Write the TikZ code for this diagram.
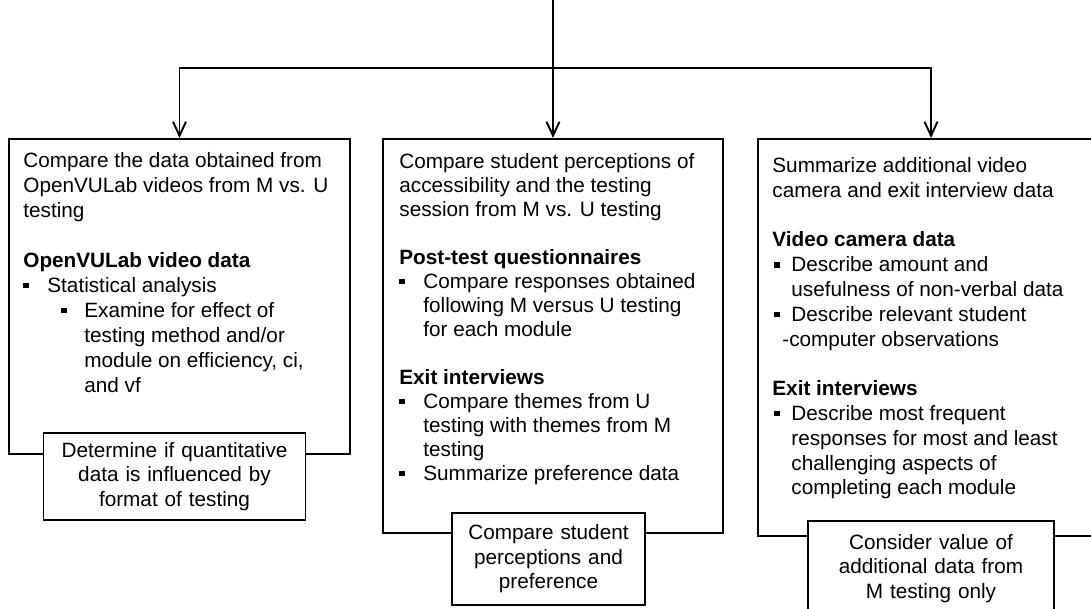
\documentclass[tikz,border=0pt]{standalone}
\usepackage{fontspec}
\setmainfont{Liberation Sans}
\usetikzlibrary{positioning,arrows.meta,calc}

\tikzset{
	caja/.style={draw, line width=1.1pt, anchor=north, inner sep=0pt},
	texto/.style={anchor=north west, align=left, inner sep=0pt, font=\fontsize{11.8}{13.66}\selectfont},
	resumen/.style={draw, line width=1.1pt, fill=white, align=center, inner sep=0pt, font=\fontsize{11.8}{13.9}\selectfont},
	flecha/.style={line width=1.1pt, -{Straight Barb[length=2.8mm,width=2.6mm]}},
}
\newcommand{\cuad}[1]{\makebox[#1][l]{\rule[0.2em]{0.26em}{0.26em}}}

\begin{document}
\begin{tikzpicture}
		\clip (0,0) rectangle (21.82,-12.18); % marco 1091x609

		% cajas principales
		\node[caja, minimum width=6.82cm, minimum height=6.30cm] (izq) at (3.59,-2.76) {};
		\node[caja, minimum width=6.80cm, minimum height=7.88cm] (centro) at (11.06,-2.76) {};
		\node[caja, minimum width=6.92cm, minimum height=7.94cm] (der) at (18.62,-2.76) {};

		% flechas
		\coordinate (inicio) at (11.06,0);
		\coordinate (rama) at (11.06,-1.36);
		\draw[flecha] (inicio) -- (centro.north);
		\draw[flecha] (rama) -| (izq.north);
		\draw[flecha] (rama) -| (der.north);

		% textos
		\node[texto, font=\fontsize{11.8}{14.2}\selectfont] (izqtxt) at ($(izq.north west)+(0.30,-0.28)$) {Compare the data obtained from\\ OpenVULab videos from M vs. U\\ testing\\[0.5cm] \textbf{OpenVULab video data}\\ \cuad{0.48cm}Statistical analysis\\ \hspace*{0.76cm}\cuad{0.46cm}Examine for effect of\\ \hspace*{1.22cm}testing method and/or\\ \hspace*{1.22cm}module on efficiency, ci,\\ \hspace*{1.22cm}and vf};
		\node[texto] (centrotxt) at ($(centro.north west)+(0.34,-0.30)$) {Compare student perceptions of\\ accessibility and the testing\\ session from M vs. U testing\\[0.48cm] \textbf{Post-test questionnaires}\\ \cuad{0.48cm}Compare responses obtained\\ \hspace*{0.48cm}following M versus U testing\\ \hspace*{0.48cm}for each module\\[0.48cm] \textbf{Exit interviews}\\ \cuad{0.48cm}Compare themes from U\\ \hspace*{0.48cm}testing with themes from M\\ \hspace*{0.48cm}testing\\ \cuad{0.48cm}Summarize preference data};
		\node[texto, font=\fontsize{11.8}{14.1}\selectfont] (dertxt) at ($(der.north west)+(0.30,-0.38)$) {Summarize additional video\\ camera and exit interview data\\[0.5cm] \textbf{Video camera data}\\ \hspace*{0.04cm}\cuad{0.34cm}Describe amount and\\ \hspace*{0.38cm}usefulness of non-verbal data\\ \hspace*{0.04cm}\cuad{0.34cm}Describe relevant student\\ \hspace*{0.2cm}-computer observations\\[0.5cm] \textbf{Exit interviews}\\ \hspace*{0.04cm}\cuad{0.34cm}Describe most frequent\\ \hspace*{0.38cm}responses for most and least\\ \hspace*{0.38cm}challenging aspects of\\ \hspace*{0.38cm}completing each module};

		% cajas de resultado
		\node[resumen, text width=5.24cm, minimum height=1.74cm, below=-0.46cm of izq, xshift=-0.1cm] (izqres) {Determine if quantitative\\ data is influenced by\\ format of testing};
		\node[resumen, text width=3.86cm, minimum height=1.84cm, below=-0.44cm of centro, xshift=-0.09cm] (centrores) {Compare student\\ perceptions and\\ preference};
		\node[resumen, text width=4.92cm, minimum height=1.90cm, below=-0.34cm of der] (derres) {Consider value of\\ additional data from\\ M testing only};
	\end{tikzpicture}
\end{document}
